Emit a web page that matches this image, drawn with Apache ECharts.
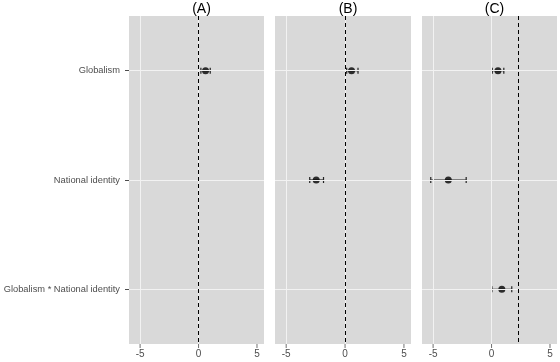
<!DOCTYPE html>
<html>
<head>
<meta charset="utf-8">
<script src="https://cdn.jsdelivr.net/npm/echarts@6/dist/echarts.min.js"></script>
<style>
  html, body { margin: 0; padding: 0; background: #fff; }
  #chart { width: 560px; height: 362px; }
</style>
</head>
<body>
<div id="chart"></div>
<script>
/* ---- data ---- */
const categories = ["Globalism", "National identity", "Globalism * National identity"];
const panelTitles = ["(A)", "(B)", "(C)"];
const xTicks = [-5, 0, 5];
const refLines = [0, 0, 2.3];

// estimate / lower / upper per category (null = not in model)
const estA = [0.6, null, null];
const lowA = [0.2, null, null];
const highA = [1.0, null, null];

const estB = [0.55, -2.45, null];
const lowB = [0.14, -3.0, null];
const highB = [1.1, -1.83, null];

const estC = [0.55, -3.7, 0.88];
const lowC = [0.06, -5.2, 0.03];
const highC = [1.05, -2.17, 1.73];

const panels = [
    { est: estA, low: lowA, high: highA },
    { est: estB, low: lowB, high: highB },
    { est: estC, low: lowC, high: highC },
];

/* ---- layout ---- */
const lefts = [129, 275, 422];
const widths = [135, 136, 135];
const TOP = 16, HEIGHT = 328;
const GREY = "#4d4d4d";
const FONT = "Liberation Sans";
// distance from the centre of the last band to just below the panel (for x tick marks)
const TICK_LEN = 4;
const tickOffset = HEIGHT / (categories.length * 2) + TICK_LEN / 2;

const chart = echarts.init(document.getElementById("chart"));

const grid = [], xAxis = [], yAxis = [], series = [], title = [];

panels.forEach((p, i) => {
    grid.push({
        left: lefts[i], top: TOP, width: widths[i], height: HEIGHT,
        show: true, backgroundColor: "#d9d9d9", borderWidth: 0,
        containLabel: false, outerBoundsMode: "none",
    });
    title.push({
        text: panelTitles[i], left: lefts[i] + widths[i] / 2, top: -3, textAlign: "center",
        textStyle: { fontSize: 14, fontWeight: "normal", color: "#000", fontFamily: FONT },
    });
    xAxis.push({
        type: "value", gridIndex: i, min: -5.95, max: 5.6, position: "bottom",
        axisLine: { show: true, onZero: false, lineStyle: { color: "#d9d9d9", width: 0.01 } },
        splitLine: { show: false },
        axisTick: { show: false },
        axisLabel: { customValues: xTicks, color: GREY, fontSize: 10, margin: 5, fontFamily: FONT },
    });
    yAxis.push({
        type: "category", gridIndex: i, data: categories, inverse: true, position: "left",
        axisLine: { show: true, onZero: false, lineStyle: { color: "#d9d9d9", width: 0.01 } },
        splitLine: { show: false },
        axisTick: { show: i === 0, inside: false, alignWithLabel: true, length: TICK_LEN, lineStyle: { color: GREY, width: 1 } },
        axisLabel: { show: i === 0, color: GREY, fontSize: 9.3, margin: 9, fontFamily: FONT },
    });

    // background grid lines + reference line
    const gl = { color: "#f2f2f2", width: 1, type: "solid" };
    series.push({
        type: "line", xAxisIndex: i, yAxisIndex: i, data: [], z: 1, silent: true,
        markLine: {
            symbol: "none", silent: true, animation: false, label: { show: false },
            data: [
                ...categories.map(c => ({ yAxis: c, lineStyle: gl })),
                { xAxis: -5, lineStyle: gl },
                { xAxis: 0, lineStyle: gl },
                { xAxis: refLines[i], lineStyle: { color: "#000", width: 1, type: [4, 3] } },
            ],
        },
    });

    // x tick marks below the panel
    series.push({
        type: "scatter", xAxisIndex: i, yAxisIndex: i, z: 2, clip: false, silent: true,
        data: xTicks.map(v => [v, categories.length - 1]),
        symbol: "rect", symbolSize: [1, TICK_LEN], symbolOffset: [0, tickOffset],
        itemStyle: { color: GREY },
    });

    const bars = [], pts = [];
    p.est.forEach((v, k) => {
        if (v === null) return;
        bars.push([p.low[k], p.high[k], k]);
        pts.push([v, k]);
    });

    series.push({
        type: "custom", xAxisIndex: i, yAxisIndex: i, z: 3, data: bars,
        renderItem: (params, api) => {
            const a = api.coord([api.value(0), api.value(2)]);
            const b = api.coord([api.value(1), api.value(2)]);
            const h = 3;
            const st = { stroke: "#222", lineWidth: 1.2 };
            return {
                type: "group",
                children: [
                    { type: "line", shape: { x1: a[0], y1: a[1], x2: b[0], y2: b[1] }, style: st },
                    { type: "line", shape: { x1: a[0], y1: a[1] - h, x2: a[0], y2: a[1] + h }, style: st },
                    { type: "line", shape: { x1: b[0], y1: b[1] - h, x2: b[0], y2: b[1] + h }, style: st },
                ],
            };
        },
    });

    series.push({
        type: "scatter", xAxisIndex: i, yAxisIndex: i, z: 4, data: pts,
        symbol: "circle", symbolSize: 7, itemStyle: { color: "#000" },
    });
});

chart.setOption({ animation: false, title, grid, xAxis, yAxis, series });
</script>
</body>
</html>
